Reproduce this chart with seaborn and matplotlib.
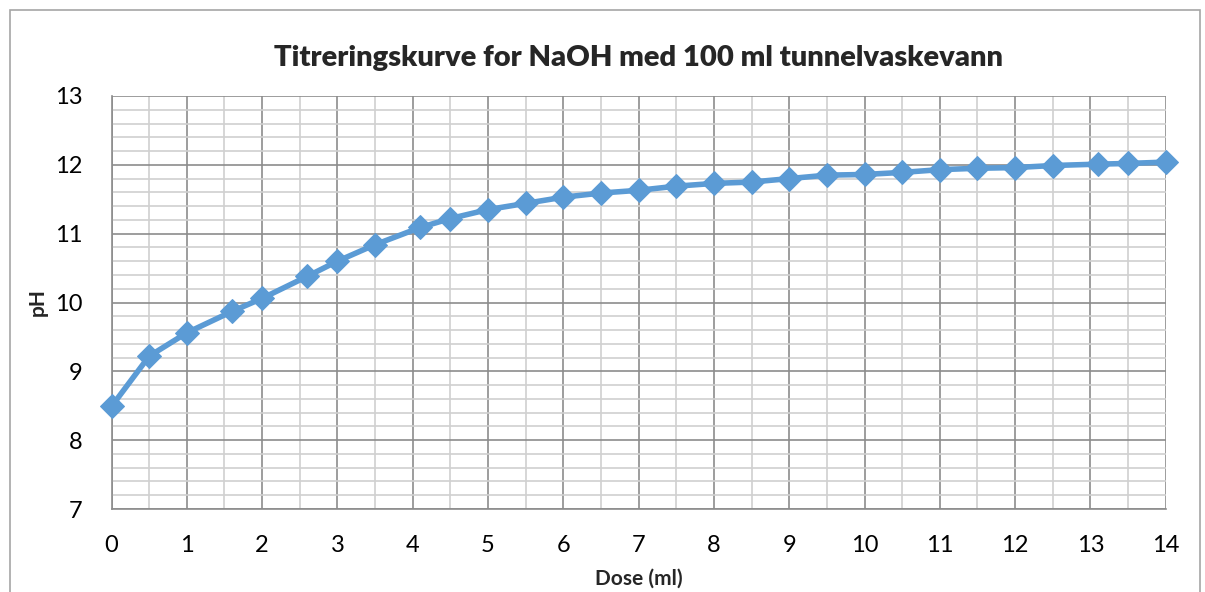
import matplotlib
matplotlib.use("Agg")
import matplotlib.pyplot as plt
from matplotlib.patches import Rectangle
from matplotlib.ticker import MultipleLocator
import seaborn as sns
import pandas as pd

dose = [0, 0.5, 1, 1.6, 2, 2.6, 3, 3.5, 4.1, 4.5, 5, 5.5, 6, 6.5, 7, 7.5, 8, 8.5,
        9, 9.5, 10, 10.5, 11, 11.5, 12, 12.5, 13.1, 13.5, 14]
ph = [8.49, 9.22, 9.56, 9.87, 10.06, 10.38, 10.60, 10.84, 11.09, 11.22, 11.35, 11.44,
      11.53, 11.59, 11.63, 11.69, 11.73, 11.75, 11.80, 11.85, 11.86, 11.89, 11.93,
      11.95, 11.96, 11.99, 12.01, 12.02, 12.04]
title = "Titreringskurve for NaOH med 100 ml tunnelvaskevann"
xlabel = "Dose (ml)"
ylabel = "pH"

df = pd.DataFrame({"dose": dose, "ph": ph})

sns.set_style("white")
plt.rcParams['font.family'] = ['Lato', 'DejaVu Sans']

W, H = 1205, 592
fig = plt.figure(figsize=(W / 100, H / 100), dpi=100)
ax = fig.add_axes([111.5 / W, 1 - 509 / H, (1165.7 - 111.5) / W, (509 - 96) / H])

# outer chart border
fig.patches.append(Rectangle((10 / W, -0.05), (1200 - 10) / W, 1 - 10 / H + 0.05,
                             transform=fig.transFigure, fill=False,
                             edgecolor="#a6a6a6", linewidth=1.2, zorder=0))

sns.lineplot(data=df, x="dose", y="ph", ax=ax, color="#5B9BD5", linewidth=4,
             marker="D", markersize=12, markeredgecolor="#5B9BD5", zorder=5,
             clip_on=False)

ax.set_xlim(0, 14)
ax.set_ylim(7, 13)
ax.xaxis.set_major_locator(MultipleLocator(1))
ax.xaxis.set_minor_locator(MultipleLocator(0.5))
ax.yaxis.set_major_locator(MultipleLocator(1))
ax.yaxis.set_minor_locator(MultipleLocator(0.2))
ax.grid(which="major", color="#8c8c8c", linewidth=1.2)
ax.grid(which="minor", color="#d0d0d0", linewidth=1.2)
ax.set_axisbelow(True)

for s in ["top", "right"]:
    ax.spines[s].set_visible(False)
for s in ["left", "bottom"]:
    ax.spines[s].set_color("#8c8c8c")
    ax.spines[s].set_linewidth(1.2)

ax.tick_params(axis="both", which="major", direction="out", length=7, width=1.2,
               color="#8c8c8c", labelsize=17, labelcolor="black")
ax.tick_params(axis="x", which="major", pad=12)
ax.tick_params(axis="y", which="major", pad=14)
ax.tick_params(axis="both", which="minor", length=0)

ax.set_xlabel(xlabel, fontsize=15, fontweight="bold", labelpad=9)
ax.set_ylabel(ylabel, fontsize=15, fontweight="bold", labelpad=5)
fig.text((111.5 + 1165.7) / 2 / W, 1 - 58 / H, title, ha="center", va="center",
         fontsize=21, fontweight="heavy")

fig.savefig("out.png", dpi=100, facecolor="white")
